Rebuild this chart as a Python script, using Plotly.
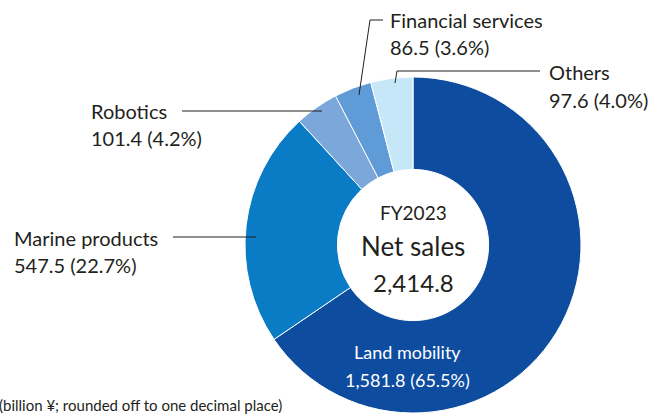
import plotly.graph_objects as go

categories = ["Land mobility", "Marine products", "Robotics", "Financial services", "Others"]
values = [1581.8, 547.5, 101.4, 86.5, 97.6]
percents = [65.5, 22.7, 4.2, 3.6, 4.0]
colors = ["#0d4c9f", "#0a7cc5", "#7ba7db", "#5f9bd6", "#c6e7f8"]
total_label = "2,414.8"
year_label = "FY2023"
center_title = "Net sales"
footnote = "(billion ¥; rounded off to one decimal place)"

W, H = 650, 415
def px(x, y):
    return x / W, 1 - y / H

def fmt(v):
    return f"{v:,.1f}"

fig = go.Figure(go.Pie(
    labels=categories, values=values, sort=False, direction="clockwise",
    rotation=0, hole=0.45, textinfo="none", hoverinfo="label+value+percent",
    marker=dict(colors=colors, line=dict(color="white", width=1)),
    domain=dict(x=[245 / W, 581 / W], y=[1 - 413 / H, 1 - 77 / H]),
    showlegend=False,
))

font = "Lato, 'Open Sans', sans-serif"
txt = "#231f20"
ann = []
def add(x, y, text, size=20, color=txt, xanchor="left"):
    xx, yy = px(x, y)
    ann.append(dict(x=xx, y=yy, xref="paper", yref="paper", text=text, showarrow=False,
                    xanchor=xanchor, yanchor="middle", font=dict(family=font, size=size, color=color)))

# outside labels
add(388, 20, categories[3])
add(388, 47, f"{fmt(values[3])} ({percents[3]:.1f}%)")
add(547, 72, categories[4])
add(547, 100, f"{fmt(values[4])} ({percents[4]:.1f}%)")
add(89, 111, categories[2])
add(89, 138, f"{fmt(values[2])} ({percents[2]:.1f}%)")
add(12, 238, categories[1])
add(12, 265, f"{fmt(values[1])} ({percents[1]:.1f}%)")
# inside label
add(407, 352, categories[0], size=18, color="white", xanchor="center")
add(407, 380, f"{fmt(values[0])} ({percents[0]:.1f}%)", size=18, color="white", xanchor="center")
# center
add(413, 212, year_label, size=19, xanchor="center")
add(413, 246, center_title, size=26, xanchor="center")
add(413, 282, total_label, size=24, xanchor="center")
# footnote
add(284, 405, footnote, size=15, xanchor="right")

shapes = []
def line(pts):
    path = "M " + " L ".join(f"{x/W},{1-y/H}" for x, y in pts)
    shapes.append(dict(type="path", path=path, xref="paper", yref="paper",
                       line=dict(color="#231f20", width=1)))

line([(383, 20), (370, 20), (359, 95)])
line([(540, 71), (397, 71), (395, 83)])
line([(182, 111), (322, 111)])
line([(173, 237), (256, 237)])

fig.update_layout(
    width=W, height=H, margin=dict(l=0, r=0, t=0, b=0),
    paper_bgcolor="white", plot_bgcolor="white",
    annotations=ann, shapes=shapes,
)
fig.write_html("out.html", config={"displayModeBar": False},
               post_script="document.body.style.margin='0';document.body.style.overflow='hidden';")
